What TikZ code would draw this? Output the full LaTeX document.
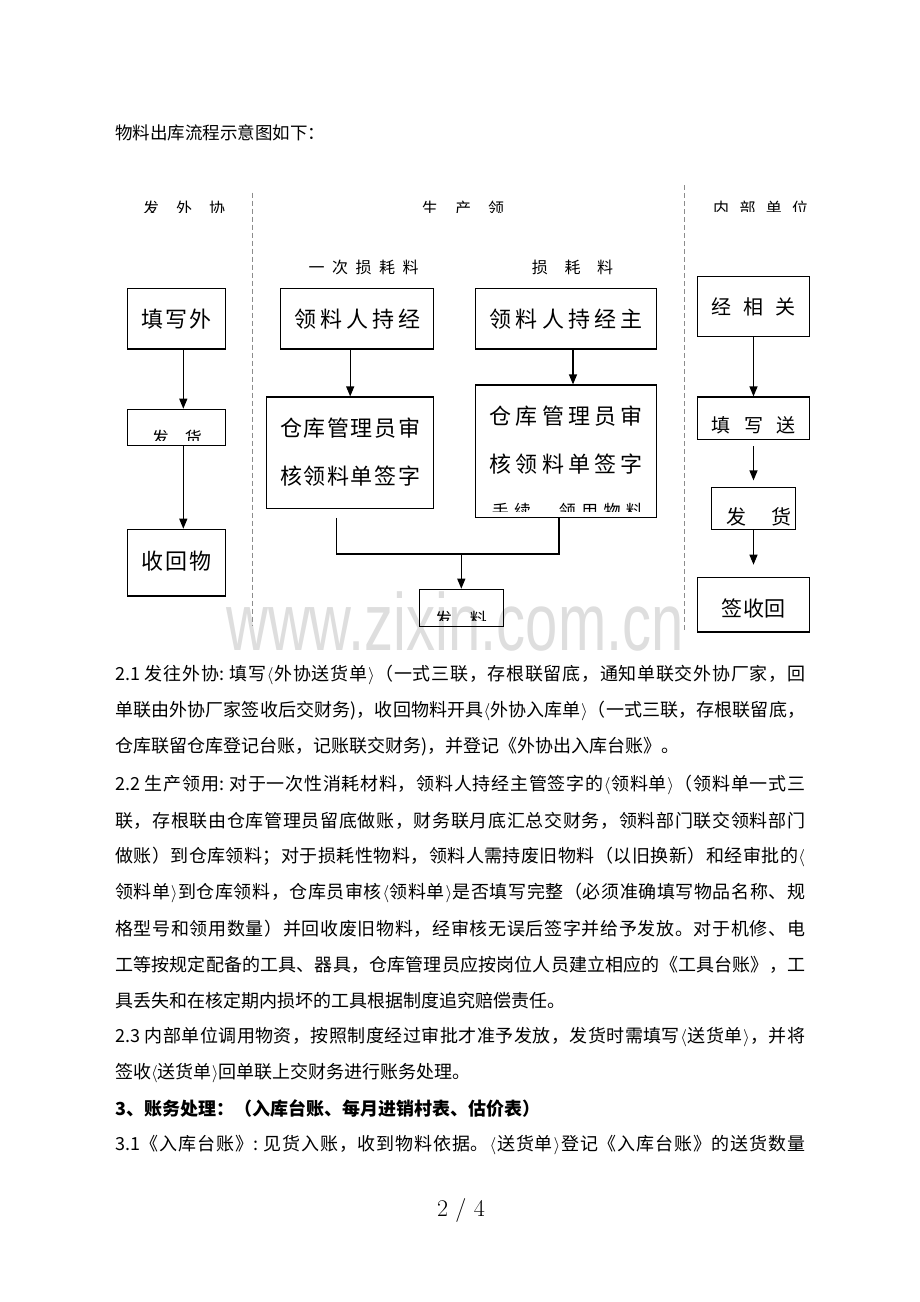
\documentclass[tikz,border=0pt]{standalone}
\usepackage{fontspec}
\usetikzlibrary{arrows.meta}
\newfontfamily\cjk{Noto Sans CJK SC}
\newfontfamily\wmfont{Liberation Sans}
\def\jendmark{\jendmark}
\def\jloop#1{\def\jarg{#1}\ifx\jarg\jendmark\else#1\hskip 0pt plus 1fil\relax\expandafter\jloop\fi}
\newcommand\spreadto[2]{\hbox to #1{\jloop#2\jendmark\unskip}}
\newcommand\la{$\langle$}
\newcommand\ra{$\rangle$}
\newcommand\fs[1]{\cjk\fontsize{#1}{#1}\selectfont}
\tikzset{
  box/.style={draw, line width=1.2pt, inner sep=0pt},
  arr/.style={-{Triangle[length=10pt,width=8pt]}, line width=1.2pt},
  ln/.style={line width=1.2pt},
  sep/.style={draw=black!45, dash pattern=on 5pt off 3pt, line width=1pt},
  txt/.style={inner sep=0pt, anchor=west},
  ctxt/.style={inner sep=0pt, anchor=north west},
  body/.style={inner sep=0pt, anchor=west, font=\fs{18}},
}
\newcommand\bx[5]{\node[box, minimum width={(#4-#2)*1pt}, minimum height={(#5-#3)*1pt}] (#1) at ({(#2+#4)/2},{(#3+#5)/2}) {};}
\begin{document}
\begin{tikzpicture}[x=1pt,y=-1pt]
\fill[white] (0,0) rectangle (920,1302);
\useasboundingbox (0,0) rectangle (920,1302);

% watermark
\node[inner sep=0pt, anchor=base, text=black!13, font=\wmfont\fontsize{58}{58}\selectfont, yscale=1.4] (wm) at (455,650) {www.zixin.com.cn};

% title
\node[txt, font=\fs{17.5}] (title) at (115,133) {物料出库流程示意图如下：};

% separators
\coordinate (d1t) at (252.7,192.7);
\coordinate (d1b) at (252.7,626);
\coordinate (d2t) at (684,185);
\coordinate (d2b) at (684,630);
\draw[sep] (d1t) -- (d1b);
\draw[sep] (d2t) -- (d2b);

% column headings (clipped)
\begin{scope}
\clip (130,190) rectangle (240,212.3);
\node[ctxt, font=\fs{16}] (l1) at (143,200.7) {\spreadto{82pt}{发外协}};
\end{scope}
\begin{scope}
\clip (400,190) rectangle (520,212);
\node[ctxt, font=\fs{16}] (l2) at (421.7,200.7) {\spreadto{82.3pt}{生产领}};
\end{scope}
\begin{scope}
\clip (700,190) rectangle (825,211.7);
\node[ctxt, font=\fs{16}] (l3) at (713,200.7) {\spreadto{95pt}{内部单位}};
\end{scope}
\begin{scope}
\clip (295,250) rectangle (430,274);
\node[ctxt, font=\fs{16}] (l4) at (308.5,260) {\spreadto{110pt}{一次损耗料}};
\end{scope}
\begin{scope}
\clip (520,250) rectangle (630,274);
\node[ctxt, font=\fs{16}] (l5) at (531.7,260) {\spreadto{81.3pt}{损耗料}};
\end{scope}

% boxes
\bx{B1}{127.7}{288.7}{225.3}{349}
\bx{B2}{127.7}{409.3}{225.3}{445.3}
\bx{B3}{127.7}{529.3}{225.3}{596}
\bx{B4}{280.3}{288.7}{433.7}{349}
\bx{B5}{266.7}{397}{433.7}{508.7}
\bx{B6}{475.3}{288.7}{656.3}{349}
\bx{B7}{475.3}{385}{656.3}{517.7}
\bx{B8}{419.3}{589.3}{503.3}{626.7}
\bx{B9}{697.7}{276.7}{809.3}{336.7}
\bx{B10}{697.7}{397}{809.3}{439.3}
\bx{B11}{711.7}{487.3}{795.3}{529.3}
\bx{B12}{697.7}{577.7}{809.3}{632}

% box texts
\node[txt, font=\fs{22}] (t1) at (141.5,319.5) {\spreadto{70pt}{填写外}};
\begin{scope}
\clip (B2.north west) rectangle (225.3,440);
\node[ctxt, font=\fs{17}] (t2) at (151.7,430) {\spreadto{50pt}{发货}};
\end{scope}
\node[txt, font=\fs{22}] (t3) at (141.5,561) {\spreadto{70pt}{收回物}};
\node[txt, font=\fs{22}] (t4) at (294.3,319.5) {\spreadto{126pt}{领料人持经}};
\node[txt, font=\fs{22}] (t5a) at (280,427.7) {\spreadto{140pt}{仓库管理员审}};
\node[txt, font=\fs{22}] (t5b) at (280,476.3) {\spreadto{140pt}{核领料单签字}};
\node[txt, font=\fs{22}] (t6) at (489.3,319.3) {\spreadto{153.4pt}{领料人持经主}};
\node[txt, font=\fs{22}] (t7a) at (489.3,416) {\spreadto{153.4pt}{仓库管理员审}};
\node[txt, font=\fs{22}] (t7b) at (489.3,464) {\spreadto{153.4pt}{核领料单签字}};
\begin{scope}
\clip (B7.north west) rectangle (656.3,511.7);
\node[ctxt, font=\fs{17}] (t7c) at (491.7,502.7) {\spreadto{151pt}{手续，领用物料}};
\end{scope}
\begin{scope}
\clip (B8.north west) rectangle (503.3,620.7);
\node[ctxt, font=\fs{17}] (t8) at (435,610.7) {\spreadto{51.7pt}{发料}};
\end{scope}
\node[txt, font=\fs{20}] (t9) at (711.7,307.3) {\spreadto{83.3pt}{经相关}};
\node[txt, font=\fs{19}] (t10) at (711.7,425.3) {\spreadto{83.3pt}{填写送}};
\node[txt, font=\fs{20}] (t11) at (726.7,516.5) {\spreadto{65pt}{发货}};
\node[txt, font=\fs{21}] (t12) at (721.7,608) {\spreadto{63.3pt}{签收回}};

% connectors
\draw[arr] ([xshift=6.8pt]B1.south) -- ([xshift=6.8pt]B2.north);
\draw[arr] ([xshift=6.8pt]B2.south) -- ([xshift=6.8pt]B3.north);
\draw[arr] (B5.north |- B4.south) -- (B5.north);
\draw[arr] ([xshift=7.2pt]B6.south) -- ([xshift=7.2pt]B7.north);
\coordinate (c1) at ([xshift=-13.5pt,yshift=-8.6pt]B5.south);
\coordinate (c2) at ([xshift=-6.8pt]B7.south);
\coordinate (bus) at (461.3,554);
\draw[ln] (c1) |- (bus) -| (c2);
\draw[arr] (bus) -- (B8.north);
\draw[arr] (B9.south) -- (B10.north);
\draw[arr] ([yshift=-6.4pt]B10.south) -- ([yshift=6.3pt]B11.north);
\draw[arr] (B11.south) -- ([yshift=12.4pt]B12.north);

% body text
\node[body] (p1) at (115,675) {\spreadto{690pt}{{2.1\ }发往外协{:\ }填写\la 外协送货单\ra（一式三联，存根联留底，通知单联交外协厂家，回}};
\node[body] (p2) at (115,711) {\spreadto{690pt}{单联由外协厂家签收后交财务)，收回物料开具\la 外协入库单\ra（一式三联，存根联留底，}};
\node[body] (p3) at (115,747) {仓库联留仓库登记台账，记账联交财务)，并登记《外协出入库台账》。};
\node[body] (p4) at (115,785) {\spreadto{690pt}{{2.2\ }生产领用{:\ }对于一次性消耗材料，领料人持经主管签字的\la 领料单\ra（领料单一式三}};
\node[body] (p5) at (115,821) {\spreadto{690pt}{联，存根联由仓库管理员留底做账，财务联月底汇总交财务，领料部门联交领料部门}};
\node[body] (p6) at (115,857) {\spreadto{690pt}{做账）到仓库领料；对于损耗性物料，领料人需持废旧物料（以旧换新）和经审批的\la}};
\node[body] (p7) at (115,893) {\spreadto{690pt}{领料单\ra 到仓库领料，仓库员审核\la 领料单\ra 是否填写完整（必须准确填写物品名称、规}};
\node[body] (p8) at (115,929) {\spreadto{690pt}{格型号和领用数量）并回收废旧物料，经审核无误后签字并给予发放。对于机修、电}};
\node[body] (p9) at (115,965) {\spreadto{690pt}{工等按规定配备的工具、器具，仓库管理员应按岗位人员建立相应的《工具台账》，工}};
\node[body] (p10) at (115,1001) {具丢失和在核定期内损坏的工具根据制度追究赔偿责任。};
\node[body] (p11) at (115,1037) {\spreadto{690pt}{{2.3\ }内部单位调用物资，按照制度经过审批才准予发放，发货时需填写\la 送货单\ra，并将}};
\node[body] (p12) at (115,1073) {签收\la 送货单\ra 回单联上交财务进行账务处理。};
\node[body, font=\fs{18}\bfseries] (p13) at (115,1109) {3、账务处理：（入库台账、每月进销村表、估价表）};
\node[body] (p14) at (115,1145) {\spreadto{690pt}{{3.1}《入库台账》{:\ }见货入账，收到物料依据。\la 送货单\ra 登记《入库台账》的送货数量}};

% page number
\node[inner sep=0pt, font=\fontsize{24}{24}\selectfont] (pg) at (461,1210) {2 / 4};
\end{tikzpicture}
\end{document}
